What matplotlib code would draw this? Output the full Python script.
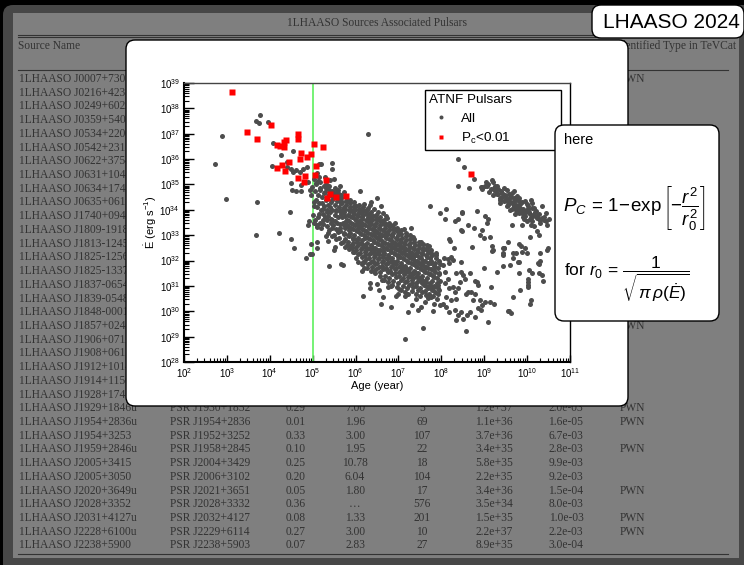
import numpy as np
import matplotlib.pyplot as plt
from matplotlib.patches import FancyBboxPatch, Rectangle
from matplotlib.ticker import LogLocator, NullFormatter

plt.rcParams['font.family'] = ['Liberation Sans', 'DejaVu Sans']
plt.rcParams['mathtext.fontset'] = 'custom'
plt.rcParams['mathtext.rm'] = 'Liberation Sans'
plt.rcParams['mathtext.it'] = 'Liberation Sans:italic'
plt.rcParams['mathtext.bf'] = 'Liberation Sans:bold'

# ---- table behind the figure ----
src_names = ["1LHAASO J0007+7303u", "1LHAASO J0216+4237u", "1LHAASO J0249+6022", "1LHAASO J0359+5406",
             "1LHAASO J0534+2200u", "1LHAASO J0542+2311u", "1LHAASO J0622+3754", "1LHAASO J0631+1040",
             "1LHAASO J0634+1741u", "1LHAASO J0635+0619", "1LHAASO J1740+0948u", "1LHAASO J1809-1918u",
             "1LHAASO J1813-1245", "1LHAASO J1825-1256u", "1LHAASO J1825-1337u", "1LHAASO J1837-0654u",
             "1LHAASO J1839-0548u", "1LHAASO J1848-0001u", "1LHAASO J1857+0245", "1LHAASO J1906+0712",
             "1LHAASO J1908+0615u", "1LHAASO J1912+1014u", "1LHAASO J1914+1150u", "1LHAASO J1928+1746u",
             "1LHAASO J1929+1846u", "1LHAASO J1954+2836u", "1LHAASO J1954+3253", "1LHAASO J1959+2846u",
             "1LHAASO J2005+3415", "1LHAASO J2005+3050", "1LHAASO J2020+3649u", "1LHAASO J2028+3352",
             "1LHAASO J2031+4127u", "1LHAASO J2228+6100u", "1LHAASO J2238+5900"]
top_types = {0: "PWN", 18: "PWN"}

psr_names = ["PSR J1930+1852", "PSR J1954+2836", "PSR J1952+3252", "PSR J1958+2845", "PSR J2004+3429",
             "PSR J2006+3102", "PSR J2021+3651", "PSR J2028+3332", "PSR J2032+4127", "PSR J2229+6114",
             "PSR J2238+5903"]
sep = ["0.29", "0.01", "0.33", "0.10", "0.25", "0.20", "0.05", "0.36", "0.08", "0.27", "0.07"]
dist = ["7.00", "1.96", "3.00", "1.95", "10.78", "6.04", "1.80", "\u2026", "1.33", "3.00", "2.83"]
age_kyr = ["5", "69", "107", "22", "18", "104", "17", "576", "201", "10", "27"]
edot_txt = ["1.2e+37", "1.1e+36", "3.7e+36", "3.4e+35", "5.8e+35", "2.2e+35", "3.4e+36", "3.5e+34",
            "1.5e+35", "2.2e+37", "8.9e+35"]
pc_txt = ["2.0e-03", "1.6e-05", "6.7e-03", "2.8e-03", "9.9e-03", "9.2e-03", "1.5e-04", "8.0e-03",
          "1.0e-03", "2.2e-03", "3.0e-04"]
tev_type = ["PWN", "PWN", "", "PWN", "", "", "PWN", "", "PWN", "PWN", ""]

# ---- ATNF pulsars (log10 age [yr], log10 Edot [erg/s]) ----
red_age_log = [3.12, 3.48, 3.71, 4.04, 4.65, 4.65, 4.18, 4.24, 4.34, 4.38, 4.32, 4.73, 4.95, 4.87, 4.70,
               4.44, 4.28, 4.16, 4.35, 4.81, 4.66, 4.79, 5.02, 5.24, 5.08, 5.05, 5.31, 5.41, 5.33, 5.55,
               5.77, 8.69]
red_edot_log = [38.63, 37.08, 36.80, 37.36, 37.00, 36.80, 36.56, 36.53, 36.46, 36.76, 36.66, 36.25, 36.21,
                36.10, 36.00, 35.90, 35.77, 35.66, 35.54, 35.33, 35.25, 35.09, 36.58, 36.46, 35.73, 35.36,
                35.18, 34.62, 34.45, 34.52, 34.55, 35.40]

sparse_pts = [(2.72, 35.81), (2.88, 36.90), (2.97, 34.41), (3.67, 33.00), (3.69, 37.51), (3.71, 34.32),
              (3.74, 37.42), (3.77, 37.73), (3.97, 37.47), (4.06, 35.72), (4.08, 36.64), (4.21, 33.09),
              (4.26, 36.17), (4.40, 35.90), (4.40, 35.67), (4.48, 33.90), (4.50, 35.04), (4.50, 32.83),
              (4.50, 35.60), (4.52, 34.80), (4.55, 36.30), (4.55, 35.50), (4.56, 32.50), (4.62, 35.56),
              (4.62, 34.76), (4.70, 35.48), (4.72, 34.76), (4.73, 34.97), (4.78, 35.62), (4.85, 32.10),
              (4.86, 35.68), (4.90, 35.08), (4.90, 33.42), (4.92, 33.55), (4.93, 34.80), (4.94, 32.24),
              (4.95, 32.67), (4.98, 32.24), (5.09, 32.74), (5.10, 32.48), (5.10, 33.34), (5.32, 32.98),
              (5.36, 32.78), (5.39, 31.77), (5.50, 32.40), (5.53, 32.55), (5.65, 31.86), (5.70, 31.83),
              (5.96, 32.35), (6.15, 31.60), (6.17, 30.62), (6.20, 31.95), (6.33, 31.10), (6.33, 30.90),
              (6.50, 31.08), (6.55, 30.83), (6.60, 30.30), (6.63, 30.57), (6.76, 30.96), (6.82, 30.17),
              (6.95, 30.60), (7.00, 30.70), (7.15, 30.62), (7.16, 28.92), (7.22, 29.98), (7.32, 30.25),
              (7.45, 30.04), (7.53, 30.18), (7.57, 29.34), (7.68, 30.53), (7.80, 30.00), (7.96, 30.24),
              (5.46, 35.83), (5.14, 35.79), (5.49, 35.21), (6.30, 36.97), (6.10, 34.75), (6.51, 34.48),
              (5.09, 35.44), (5.20, 35.80), (5.45, 35.60)]

band_pts = [
    (4.98, 34.9), (5.02, 34.3), (5.00, 33.8), (5.04, 35.2), (4.97, 34.6), (5.03, 33.5),
    (5.08, 35.0), (5.12, 34.6), (5.10, 34.1), (5.13, 33.7), (5.07, 34.4), (5.14, 35.3), (5.11, 33.4),
    (5.18, 34.8), (5.22, 34.5), (5.20, 34.0), (5.24, 33.6), (5.17, 35.1), (5.21, 34.25), (5.19, 33.3),
    (5.28, 34.7), (5.31, 34.4), (5.33, 34.0), (5.29, 33.7), (5.32, 35.0), (5.27, 34.15), (5.34, 33.35),
    (5.30, 34.85), (5.38, 34.6), (5.42, 34.3), (5.40, 33.9), (5.43, 33.5), (5.37, 34.95), (5.41, 34.1),
    (5.39, 33.2), (5.44, 34.75), (5.36, 33.75), (5.48, 34.5), (5.51, 34.2), (5.53, 33.8), (5.47, 33.4),
    (5.52, 34.85), (5.49, 33.0), (5.54, 34.0), (5.50, 34.65), (5.46, 33.6), (5.58, 34.4), (5.62, 34.1),
    (5.60, 33.7), (5.63, 33.3), (5.57, 34.7), (5.61, 32.9), (5.64, 33.95), (5.59, 34.55), (5.56, 33.5),
    (5.65, 34.25), (5.68, 34.3), (5.72, 33.9), (5.70, 33.5), (5.73, 33.1), (5.67, 34.6), (5.71, 32.75),
    (5.74, 34.1), (5.69, 33.7), (5.66, 34.45), (5.75, 33.3), (5.78, 34.2), (5.82, 33.8), (5.80, 33.4),
    (5.83, 33.0), (5.77, 34.5), (5.81, 32.6), (5.84, 34.0), (5.79, 33.6), (5.76, 32.85), (5.85, 33.2),
    (5.88, 34.1), (5.92, 33.7), (5.90, 33.3), (5.93, 32.9), (5.87, 34.4), (5.91, 32.5), (5.94, 33.9),
    (5.89, 33.5), (5.86, 33.1), (5.95, 32.7), (5.98, 34.0), (6.02, 33.6), (6.00, 33.2), (6.03, 32.8),
    (5.97, 34.3), (6.01, 32.4), (6.04, 33.8), (5.99, 33.4), (5.96, 33.0), (6.05, 32.6), (6.00, 34.15),
    (6.08, 33.9), (6.12, 33.5), (6.10, 33.1), (6.13, 32.7), (6.07, 34.2), (6.11, 32.3), (6.14, 33.7),
    (6.09, 33.3), (6.06, 32.9), (6.15, 32.5), (6.11, 34.0), (6.18, 33.8), (6.22, 33.4), (6.20, 33.0),
    (6.23, 32.6), (6.17, 34.1), (6.21, 32.2), (6.24, 33.6), (6.19, 33.2), (6.16, 32.8), (6.25, 32.4),
    (6.21, 33.95), (6.18, 31.95), (6.28, 33.7), (6.32, 33.3), (6.30, 32.9), (6.33, 32.5), (6.27, 34.0),
    (6.31, 32.1), (6.34, 33.5), (6.29, 33.1), (6.26, 32.7), (6.35, 32.3), (6.31, 33.85), (6.28, 31.85),
    (6.38, 33.6), (6.42, 33.2), (6.40, 32.8), (6.43, 32.4), (6.37, 33.9), (6.41, 32.0), (6.44, 33.4),
    (6.39, 33.0), (6.36, 32.6), (6.45, 32.2), (6.41, 33.75), (6.38, 31.75), (6.48, 33.5), (6.52, 33.1),
    (6.50, 32.7), (6.53, 32.3), (6.47, 33.8), (6.51, 31.9), (6.54, 33.3), (6.49, 32.9), (6.46, 32.5),
    (6.55, 32.1), (6.51, 33.65), (6.48, 31.65), (6.58, 33.4), (6.62, 33.0), (6.60, 32.6), (6.63, 32.2),
    (6.57, 33.7), (6.61, 31.8), (6.64, 33.2), (6.59, 32.8), (6.56, 32.4), (6.65, 32.0), (6.61, 33.55),
    (6.58, 31.55), (6.68, 33.3), (6.72, 32.9), (6.70, 32.5), (6.73, 32.1), (6.67, 33.6), (6.71, 31.7),
    (6.74, 33.1), (6.69, 32.7), (6.66, 32.3), (6.75, 31.9), (6.71, 33.45), (6.68, 31.4), (6.78, 33.2),
    (6.82, 32.8), (6.80, 32.4), (6.83, 32.0), (6.77, 33.5), (6.81, 31.6), (6.84, 33.0), (6.79, 32.6),
    (6.76, 32.2), (6.85, 31.8), (6.81, 33.35), (6.78, 31.3), (6.88, 33.1), (6.92, 32.7), (6.90, 32.3),
    (6.93, 31.9), (6.87, 33.4), (6.91, 31.5), (6.94, 32.9), (6.89, 32.5), (6.86, 32.1), (6.95, 31.7),
    (6.91, 33.25), (6.88, 31.2), (6.98, 33.0), (7.02, 32.6), (7.00, 32.2), (7.03, 31.8), (6.97, 33.3),
    (7.01, 31.4), (7.04, 32.8), (6.99, 32.4), (6.96, 32.0), (7.05, 31.6), (7.01, 33.15), (6.98, 31.1),
    (7.08, 32.9), (7.12, 32.5), (7.10, 32.1), (7.13, 31.7), (7.07, 33.2), (7.11, 31.3), (7.14, 32.7),
    (7.09, 32.3), (7.06, 31.9), (7.15, 31.5), (7.11, 31.0), (7.18, 32.8), (7.22, 32.4), (7.20, 32.0),
    (7.23, 31.6), (7.17, 33.1), (7.21, 31.2), (7.24, 32.6), (7.19, 32.2), (7.16, 31.8), (7.25, 31.4),
    (7.21, 30.9), (7.28, 32.7), (7.32, 32.3), (7.30, 31.9), (7.33, 31.5), (7.27, 33.0), (7.31, 31.1),
    (7.34, 32.5), (7.29, 32.1), (7.26, 31.7), (7.35, 31.3), (7.31, 30.8), (7.38, 32.6), (7.42, 32.2),
    (7.40, 31.8), (7.43, 31.4), (7.37, 32.85), (7.41, 31.0), (7.44, 32.4), (7.39, 32.0), (7.36, 31.6),
    (7.45, 31.2), (7.41, 30.7), (7.48, 32.5), (7.52, 32.1), (7.50, 31.7), (7.53, 31.3), (7.47, 32.75),
    (7.51, 30.9), (7.54, 32.3), (7.49, 31.9), (7.46, 31.5), (7.55, 31.1), (7.51, 30.6), (7.58, 32.4),
    (7.62, 32.0), (7.60, 31.6), (7.63, 31.2), (7.57, 32.65), (7.61, 30.8), (7.64, 32.2), (7.59, 31.8),
    (7.56, 31.4), (7.65, 31.0), (7.68, 32.3), (7.72, 31.9), (7.70, 31.5), (7.73, 31.1), (7.67, 32.5),
    (7.71, 30.7), (7.74, 32.1), (7.69, 31.7), (7.66, 31.3), (7.75, 30.9), (7.78, 32.2), (7.82, 31.8),
    (7.80, 31.4), (7.83, 31.0), (7.77, 32.4), (7.81, 30.6), (7.84, 31.6), (7.79, 31.2), (7.88, 32.1),
    (7.92, 31.7), (7.90, 31.3), (7.93, 30.9), (7.87, 32.3), (7.91, 30.5), (7.94, 31.5), (7.89, 31.1),
    (6.20, 34.22), (6.28, 34.09), (6.35, 34.29), (6.43, 34.02), (6.59, 34.15), (6.63, 33.89),
    (6.71, 33.76), (6.12, 33.89), (7.29, 33.30), (7.67, 32.60), (7.95, 32.00), (7.75, 31.90),
]

band_fill_pts = [
    (5.06, 34.75), (5.04, 34.15), (5.05, 33.6), (5.07, 35.05), (5.16, 34.85), (5.15, 34.25), (5.14, 33.85),
    (5.16, 33.5), (5.13, 35.15), (5.26, 34.65), (5.25, 34.05), (5.24, 33.45), (5.27, 34.95), (5.23, 33.85),
    (5.36, 34.55), (5.35, 34.2), (5.34, 33.6), (5.37, 34.8), (5.33, 33.9), (5.35, 33.1), (5.46, 34.4),
    (5.45, 34.0), (5.44, 33.3), (5.47, 34.7), (5.43, 33.65), (5.45, 32.95), (5.56, 34.35), (5.55, 33.95),
    (5.54, 33.25), (5.57, 34.6), (5.53, 33.55), (5.55, 32.85), (5.58, 34.8), (5.66, 34.25), (5.65, 33.85),
    (5.64, 33.15), (5.67, 34.5), (5.63, 33.45), (5.65, 32.7), (5.68, 34.0), (5.76, 34.05), (5.75, 33.75),
    (5.74, 33.05), (5.77, 34.35), (5.73, 33.4), (5.75, 32.55), (5.78, 33.55), (5.86, 33.95), (5.85, 33.55),
    (5.84, 32.95), (5.87, 34.25), (5.83, 33.35), (5.85, 32.45), (5.88, 33.75), (5.82, 32.75), (5.96, 33.85),
    (5.95, 33.45), (5.94, 32.85), (5.97, 34.15), (5.93, 33.25), (5.95, 32.35), (5.98, 33.65), (5.92, 32.6),
    (6.06, 33.75), (6.05, 33.35), (6.04, 32.75), (6.07, 34.05), (6.03, 33.15), (6.05, 32.25), (6.08, 33.55),
    (6.02, 32.55), (6.06, 31.95), (6.16, 33.65), (6.15, 33.25), (6.14, 32.65), (6.17, 33.95), (6.13, 33.05),
    (6.15, 32.15), (6.18, 33.45), (6.12, 32.45), (6.16, 31.85), (6.26, 33.55), (6.25, 33.15), (6.24, 32.55),
    (6.27, 33.85), (6.23, 32.95), (6.25, 32.05), (6.28, 33.35), (6.22, 32.35), (6.26, 31.7), (6.36, 33.45),
    (6.35, 33.05), (6.34, 32.45), (6.37, 33.75), (6.33, 32.85), (6.35, 31.95), (6.38, 33.25), (6.32, 32.25),
    (6.36, 31.6), (6.46, 33.35), (6.45, 32.95), (6.44, 32.35), (6.47, 33.65), (6.43, 32.75), (6.45, 31.85),
    (6.48, 33.15), (6.42, 32.15), (6.46, 31.5), (6.56, 33.25), (6.55, 32.85), (6.54, 32.25), (6.57, 33.55),
    (6.53, 32.65), (6.55, 31.75), (6.58, 33.05), (6.52, 32.05), (6.56, 31.4), (6.66, 33.15), (6.65, 32.75),
    (6.64, 32.15), (6.67, 33.45), (6.63, 32.55), (6.65, 31.65), (6.68, 32.95), (6.62, 31.95), (6.66, 31.25),
    (6.76, 33.05), (6.75, 32.65), (6.74, 32.05), (6.77, 33.35), (6.73, 32.45), (6.75, 31.55), (6.78, 32.85),
    (6.72, 31.85), (6.76, 31.15), (6.86, 32.95), (6.85, 32.55), (6.84, 31.95), (6.87, 33.25), (6.83, 32.35),
    (6.85, 31.45), (6.88, 32.75), (6.82, 31.75), (6.86, 31.05), (6.96, 32.85), (6.95, 32.45), (6.94, 31.85),
    (6.97, 33.15), (6.93, 32.25), (6.95, 31.35), (6.98, 32.65), (6.92, 31.65), (6.96, 30.95), (7.06, 32.75),
    (7.05, 32.35), (7.04, 31.75), (7.07, 33.05), (7.03, 32.15), (7.05, 31.25), (7.08, 32.55), (7.02, 31.55),
    (7.06, 30.85), (7.16, 32.65), (7.15, 32.25), (7.14, 31.65), (7.17, 32.95), (7.13, 32.05), (7.15, 31.15),
    (7.18, 32.45), (7.12, 31.45), (7.16, 30.75), (7.26, 32.55), (7.25, 32.15), (7.24, 31.55), (7.27, 32.85),
    (7.23, 31.95), (7.25, 31.05), (7.28, 32.35), (7.22, 31.35), (7.36, 32.45), (7.35, 32.05), (7.34, 31.45),
    (7.37, 32.75), (7.33, 31.85), (7.35, 30.95), (7.38, 32.25), (7.32, 31.25), (7.46, 32.35), (7.45, 31.95),
    (7.44, 31.35), (7.47, 32.6), (7.43, 31.75), (7.45, 30.85), (7.48, 32.15), (7.42, 31.1), (7.56, 32.25),
    (7.55, 31.85), (7.54, 31.25), (7.57, 32.5), (7.53, 31.65), (7.55, 30.75), (7.58, 32.0), (7.66, 32.15),
    (7.65, 31.75), (7.64, 31.15), (7.67, 32.4), (7.63, 31.55), (7.65, 30.65), (7.68, 31.9), (7.76, 32.0),
    (7.75, 31.65), (7.74, 31.05), (7.77, 32.3), (7.73, 31.45), (7.75, 30.55), (7.86, 31.9), (7.85, 31.55),
    (7.84, 30.95), (7.87, 32.2), (7.83, 31.35), (7.85, 30.75), (7.96, 31.85), (7.95, 31.45), (7.94, 30.85),
    (7.97, 31.2), (7.93, 30.7),
]

band_extra_pts = [
    (5.62, 34.62), (5.81, 34.33), (5.93, 33.98), (6.04, 33.47), (6.13, 33.38), (6.22, 32.88), (6.31, 33.62),
    (6.39, 32.53), (6.44, 33.08), (6.52, 32.43), (6.58, 32.97), (6.63, 32.37), (6.69, 33.02), (6.73, 31.62),
    (6.79, 32.13), (6.84, 32.68), (6.89, 31.93), (6.93, 32.58), (6.99, 32.13), (7.04, 32.48), (7.09, 31.78),
    (7.13, 32.38), (7.19, 31.68), (7.24, 32.23), (7.29, 31.38), (7.33, 32.13), (7.39, 31.53), (7.43, 31.98),
    (7.49, 31.23), (7.53, 31.88), (7.59, 31.03), (7.63, 31.73), (7.69, 30.93), (7.73, 31.48), (7.79, 30.83),
    (7.86, 31.73), (7.92, 31.03), (5.72, 34.72), (5.58, 33.12), (5.86, 32.58), (6.01, 32.12), (6.19, 31.72),
    (6.42, 31.58), (6.61, 31.23), (6.83, 30.98), (7.02, 30.88), (7.22, 30.68), (7.42, 30.48), (7.62, 30.38),
    (7.82, 30.28), (6.33, 34.18), (6.52, 33.93), (6.73, 33.68), (6.92, 33.48), (7.12, 33.23), (7.33, 32.93),
    (7.52, 32.73), (7.72, 32.58), (5.28, 35.28), (5.41, 35.18), (5.63, 34.93),
]

msp_pts = [(9.17, 35.17), (9.21, 35.08), (9.09, 35.01), (9.25, 34.94), (9.16, 34.84), (9.33, 34.81),
           (9.41, 34.68), (9.29, 34.61), (9.37, 34.48), (9.48, 34.55), (9.56, 34.42), (9.45, 34.35),
           (9.60, 34.29), (9.68, 34.22), (9.52, 34.15), (9.64, 34.05), (9.76, 34.09), (9.80, 33.96),
           (9.72, 33.82), (9.88, 33.89), (9.95, 33.76), (10.03, 34.02), (10.11, 34.09), (10.19, 33.76),
           (10.07, 33.63), (9.92, 33.63), (10.27, 33.63), (10.35, 33.69), (10.50, 33.63), (9.80, 34.35),
           (9.99, 34.22), (8.94, 34.81), (9.02, 34.94), (9.05, 35.08), (8.92, 34.89), (9.37, 34.27),
           (9.53, 34.34), (9.69, 34.14), (9.84, 34.21), (10.00, 34.01), (10.16, 34.07), (9.92, 33.81),
           (10.08, 33.68), (10.24, 33.74), (10.31, 33.48), (10.16, 33.35), (10.24, 33.15), (10.39, 33.61),
           (10.47, 33.42), (10.00, 33.55), (9.81, 33.88), (9.61, 34.01), (10.27, 33.02), (10.35, 34.14),
           (10.12, 34.27), (9.96, 34.34), (10.43, 33.88), (9.22, 34.86), (9.38, 34.73), (9.53, 34.77),
           (9.69, 34.73), (9.77, 34.53), (9.49, 34.60), (9.30, 34.95), (9.62, 34.50), (9.85, 34.05),
           (10.05, 33.90), (9.58, 34.62), (9.73, 34.40), (10.20, 33.95),
           (9.25, 34.75), (9.33, 34.62), (9.42, 34.52), (9.50, 34.44), (9.58, 34.36), (9.66, 34.30),
           (9.74, 34.18), (9.82, 34.12), (9.90, 34.02), (9.98, 33.95), (10.06, 33.84), (10.14, 33.80),
           (10.22, 33.66), (10.30, 33.58), (9.45, 34.85), (9.60, 34.60), (9.70, 34.45), (9.88, 34.30),
           (10.02, 34.14), (10.18, 33.92), (10.28, 33.85), (9.55, 34.20), (9.75, 33.98), (9.95, 33.88),
           (10.12, 33.55), (10.40, 33.72), (9.36, 34.38), (9.12, 34.72), (9.20, 34.60), (10.10, 33.40),
           (9.64, 34.68), (9.82, 34.48), (10.08, 34.38), (10.44, 33.55), (9.90, 33.70)]

field_pts = [(8.40, 36.02), (8.53, 35.69), (8.75, 35.22), (8.40, 34.92), (8.65, 34.85), (8.94, 34.89),
             (9.06, 34.93), (8.11, 34.02), (8.48, 33.92), (8.82, 33.95), (9.09, 33.63), (8.08, 33.63),
             (8.39, 33.63), (7.73, 34.14), (7.97, 33.88), (8.48, 33.88), (8.32, 33.55), (9.02, 33.74),
             (9.06, 33.48), (8.75, 33.28), (8.90, 33.00), (9.20, 32.40), (9.44, 32.50), (9.44, 32.30),
             (10.47, 32.43), (10.30, 32.00), (10.30, 32.30), (9.58, 30.00), (10.25, 31.90), (10.35, 31.44),
             (10.04, 31.64), (8.04, 31.82), (8.09, 31.56), (8.16, 31.29), (8.08, 31.10), (8.19, 30.90),
             (8.27, 30.96), (8.12, 30.57), (8.23, 30.44), (8.04, 30.30), (8.31, 30.77), (8.35, 30.50),
             (8.39, 30.90), (8.47, 31.56), (8.51, 31.43), (8.55, 31.29), (8.43, 31.16), (8.58, 30.70),
             (8.62, 30.77), (8.70, 30.77), (8.78, 30.70), (8.74, 30.44), (8.82, 31.16), (8.86, 31.03),
             (8.90, 30.44), (8.94, 30.24), (8.31, 30.04), (8.39, 29.84), (8.47, 29.98), (8.51, 29.71),
             (8.61, 29.84), (8.66, 29.98), (8.78, 29.78), (8.35, 29.65), (8.19, 29.98), (8.12, 30.17),
             (8.06, 32.11), (8.16, 32.08), (8.23, 32.15), (8.27, 32.02), (8.19, 31.89), (8.35, 31.49),
             (8.47, 31.95), (8.68, 31.49), (8.78, 31.19), (8.86, 30.11), (8.92, 30.04), (9.02, 30.37),
             (9.13, 30.37), (9.23, 30.30), (9.16, 30.95), (8.58, 29.21), (9.09, 29.58), (9.56, 30.00),
             (9.62, 29.95), (9.66, 30.56), (9.84, 30.83), (10.07, 30.30), (10.10, 30.44), (10.02, 31.29),
             (10.03, 31.16), (10.03, 31.03), (10.02, 30.94), (10.11, 31.49), (10.28, 31.49), (10.38, 31.19),
             (9.80, 31.49), (9.43, 31.78), (9.60, 31.82), (9.81, 31.93), (10.27, 31.85), (9.00, 31.69),
             (9.29, 31.53), (9.43, 32.22), (9.47, 32.51), (9.66, 32.12), (9.68, 32.28), (9.74, 32.28),
             (9.78, 31.93), (9.88, 32.32), (9.94, 32.48), (9.82, 32.64), (9.86, 32.58), (9.99, 32.28),
             (8.72, 32.53), (8.30, 32.50), (8.17, 32.85), (8.20, 32.77), (8.99, 32.87), (9.13, 32.93),
             (9.17, 32.58), (9.19, 32.37), (9.45, 32.50), (9.55, 32.72), (8.94, 33.19), (8.62, 33.40),
             (8.45, 33.20), (8.49, 33.16), (9.64, 33.40), (9.88, 33.40), (10.06, 32.94), (10.49, 32.48)]

all_gray = sparse_pts + band_pts + band_fill_pts + band_extra_pts + msp_pts + field_pts
gray_age_log = [p[0] for p in all_gray]
gray_edot_log = [p[1] for p in all_gray]

fig = plt.figure(figsize=(7.44, 5.65), dpi=100, facecolor='black')

# background slide, drawn in pixel units
bg = fig.add_axes([0, 0, 1, 1], zorder=0, label='bg')
bg.set_xlim(0, 744)
bg.set_ylim(565, 0)
bg.set_axis_off()
bg.add_patch(FancyBboxPatch((3, 5), 760, 580, boxstyle='round,pad=0,rounding_size=10',
                            fc='#474747', ec='none'))
bg.add_patch(Rectangle((13, 13), 726, 545, fc='#7f7f7f', ec='none'))

tcol = '#333333'
serif = ['Liberation Serif', 'DejaVu Serif']
tfs = 8.3
bg.text(377, 23, '1LHAASO Sources Associated Pulsars', family=serif, fontsize=tfs, color=tcol,
        ha='center', va='center')
for yy in (34.5, 36.8):
    bg.plot([18, 728], [yy, yy], color=tcol, lw=0.8)
bg.plot([18, 728], [70, 70], color=tcol, lw=0.8)
bg.plot([18, 728], [554, 554], color=tcol, lw=0.8)
bg.text(18, 46, 'Source Name', family=serif, fontsize=tfs, color=tcol, va='center')
bg.text(736, 46, 'Identified Type in TeVCat', family=serif, fontsize=tfs, color=tcol,
        va='center', ha='right')

row_y0, row_dy = 79, 13.72
n0 = len(src_names) - len(psr_names)
for i, name in enumerate(src_names):
    yy = row_y0 + i * row_dy
    bg.text(19, yy, name, family=serif, fontsize=tfs, color=tcol, va='center')
    if i in top_types:
        bg.text(620, yy, top_types[i], family=serif, fontsize=tfs, color=tcol, va='center')
for j in range(len(psr_names)):
    yy = row_y0 + (n0 + j) * row_dy
    bg.text(170, yy, psr_names[j], family=serif, fontsize=tfs, color=tcol, va='center')
    bg.text(296, yy, sep[j], family=serif, fontsize=tfs, color=tcol, va='center', ha='center')
    bg.text(355, yy, dist[j], family=serif, fontsize=tfs, color=tcol, va='center', ha='center')
    bg.text(422, yy, age_kyr[j], family=serif, fontsize=tfs, color=tcol, va='center', ha='center')
    bg.text(494, yy, edot_txt[j], family=serif, fontsize=tfs, color=tcol, va='center', ha='center')
    bg.text(566, yy, pc_txt[j], family=serif, fontsize=tfs, color=tcol, va='center', ha='center')
    bg.text(620, yy, tev_type[j], family=serif, fontsize=tfs, color=tcol, va='center')

# white panel holding the plot
bg.add_patch(FancyBboxPatch((126, 40), 502, 366, boxstyle='round,pad=0,rounding_size=9',
                            fc='white', ec='black', lw=1.0, zorder=5))

# ---- scatter plot ----
ax = fig.add_axes([184 / 744, 1 - 362 / 565, 386 / 744, 279 / 565], zorder=2)
ax.set_xscale('log')
ax.set_yscale('log')
ax.plot(10 ** np.array(gray_age_log), 10 ** np.array(gray_edot_log), 'o', ms=3.6, color='#4d4d4d',
        mec='none', ls='none', label='All', zorder=3)
ax.plot(10 ** np.array(red_age_log), 10 ** np.array(red_edot_log), 's', ms=4.4, color='red',
        mec='none', ls='none', label=r'P$_{\rm c}$<0.01', zorder=4)
ax.axvline(1e5, color='#5ef05e', lw=1.2, zorder=2)
ax.set_xlim(1e2, 1e11)
ax.set_ylim(1e28, 1e39)

ax.xaxis.set_major_locator(LogLocator(base=10, numticks=20))
ax.yaxis.set_major_locator(LogLocator(base=10, numticks=20))
ax.xaxis.set_minor_locator(LogLocator(base=10, subs=np.arange(2, 10), numticks=200))
ax.yaxis.set_minor_locator(LogLocator(base=10, subs=np.arange(2, 10), numticks=200))
ax.xaxis.set_minor_formatter(NullFormatter())
ax.yaxis.set_minor_formatter(NullFormatter())
ax.tick_params(which='both', direction='in', top=False, right=False, labelsize=7, pad=3)
ax.tick_params(axis='x', which='major', length=5, width=1)
ax.tick_params(axis='x', which='minor', length=2.8, width=0.8)
ax.tick_params(axis='y', which='major', length=7.5, width=1)
ax.tick_params(axis='y', which='minor', length=3.8, width=0.8)
ax.spines['left'].set_linewidth(1.5)
ax.spines['bottom'].set_linewidth(1.5)
ax.spines['top'].set_linewidth(1.0)
ax.spines['top'].set_color('#444444')
ax.spines['right'].set_linewidth(1.0)

ax.set_xlabel('Age (year)', fontsize=8, labelpad=1)
ax.set_ylabel(r'$\dot{\rm E}$ (erg s$^{-1}$)', fontsize=8, labelpad=0)

leg = ax.legend(title='ATNF Pulsars', loc='upper left', bbox_to_anchor=(0.6244, 0.749, 0.3523, 0.2259),
                mode='expand', borderaxespad=0, fancybox=False, edgecolor='black', framealpha=1,
                fontsize=9.7, title_fontsize=9.7, alignment='left', markerscale=0.8,
                handlelength=1.8, handletextpad=0.6, labelspacing=0.45, borderpad=0.3)
leg.get_frame().set_linewidth(1.0)

# ---- overlay: callout and badge ----
fg = fig.add_axes([0, 0, 1, 1], zorder=5, label='fg')
fg.set_xlim(0, 744)
fg.set_ylim(565, 0)
fg.set_axis_off()
fg.add_patch(FancyBboxPatch((555, 125), 164, 196, boxstyle='round,pad=0,rounding_size=9',
                            fc='white', ec='black', lw=1.0))
fg.text(564, 140, 'here', fontsize=10.5, va='center')
fg.text(563, 208, r'$P_C\,=\,1\!-\!\exp\left[-\dfrac{r^2}{r_0^2}\right]$', fontsize=13.5, va='center')
fg.text(564, 280, r'for $r_0\,=\,\dfrac{1}{\sqrt{\pi\,\rho(\dot{E})}}$', fontsize=12.5, va='center')

fg.add_patch(FancyBboxPatch((592, 5), 152, 33, boxstyle='round,pad=0,rounding_size=9',
                            fc='white', ec='black', lw=1.0))
fg.text(671, 22, 'LHAASO 2024', fontsize=15, va='center', ha='center')

fig.savefig('out.png', dpi=100, facecolor=fig.get_facecolor())
